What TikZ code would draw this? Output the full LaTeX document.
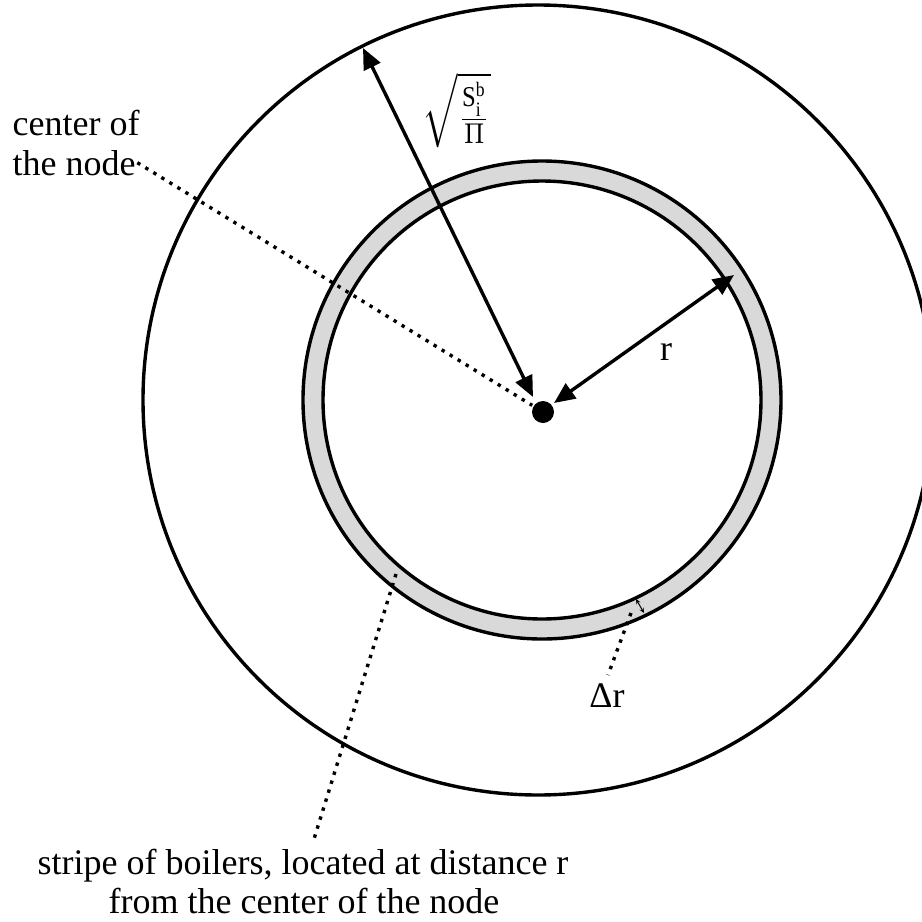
\documentclass[tikz,border=0pt]{standalone}
\usepackage{fontspec}
\usepackage{graphicx}
\setmainfont{Liberation Serif}
\usetikzlibrary{arrows.meta}
\begin{document}
\begin{tikzpicture}[x=1pt,y=-1pt,line width=3.4pt,
  lbl/.style={font=\fontsize{36}{40}\selectfont, inner sep=0pt},
  bigarrow/.style={{Triangle[length=21pt,width=18pt]}-{Triangle[length=21pt,width=18pt]}, line width=3.4pt},
  dots/.style={line width=3.4pt, dash pattern=on 3.4pt off 6pt},
  smallarrow/.style={{Stealth[length=5pt,width=4.5pt]}-{Stealth[length=5pt,width=4.5pt]}, line width=1pt}]
\useasboundingbox (0,0) rectangle (922,922);
\clip (0,0) rectangle (922,922);
\coordinate (O) at (538,400);
\coordinate (R) at (542,400);
% outer circle
\draw (O) circle[radius=395pt];
% ring
\fill[black!15, even odd rule] (R) circle[radius=239pt] (R) circle[radius=219pt];
\draw (R) circle[radius=239pt];
\draw (R) circle[radius=219pt];
% center dot
\node[circle, fill, inner sep=0pt, minimum size=22pt] (dot) at (543,412) {};
% arrows
\coordinate (a1) at (533,397);
\coordinate (a2) at (363,48);
\draw[bigarrow] (a1) -- (a2);
\coordinate (r1) at (554,403);
\coordinate (r2) at (734,275);
\draw[bigarrow] (r1) -- (r2);
% labels
\node[inner sep=0pt, anchor=north west] (sq) at (421,71) {\resizebox{68pt}{57pt}{$\sqrt{\frac{\mathrm{S}_{\mathrm{i}}^{\mathrm{b}}}{\Pi}}$}};
\node[lbl, anchor=base] (rl) at (666,360) {r};
\node[lbl, anchor=base west] (c1) at (11,135) {center of};
\node[lbl, anchor=base west] (c2) at (11,175) {the node};
\draw[dots] (c2.east) -- (dot);
% stripe label
\node[lbl, anchor=base] (b1) at (303,874) {stripe of boilers, located at distance r};
\node[lbl, anchor=base] (b2) at (304,913) {from the center of the node};
\coordinate (s1) at (396,574);
\coordinate (s2) at (314,839);
\draw[dots] (s1) -- (s2);
% delta r
\coordinate (d1) at (636,599);
\coordinate (d2) at (644,613);
\draw[smallarrow] (d1) -- (d2);
\node[lbl, anchor=base] (dr) at (607,707) {Δr};
\coordinate (e1) at (631,613);
\coordinate (e2) at (608,675);
\draw[dots] (e1) -- (e2);
\end{tikzpicture}
\end{document}
